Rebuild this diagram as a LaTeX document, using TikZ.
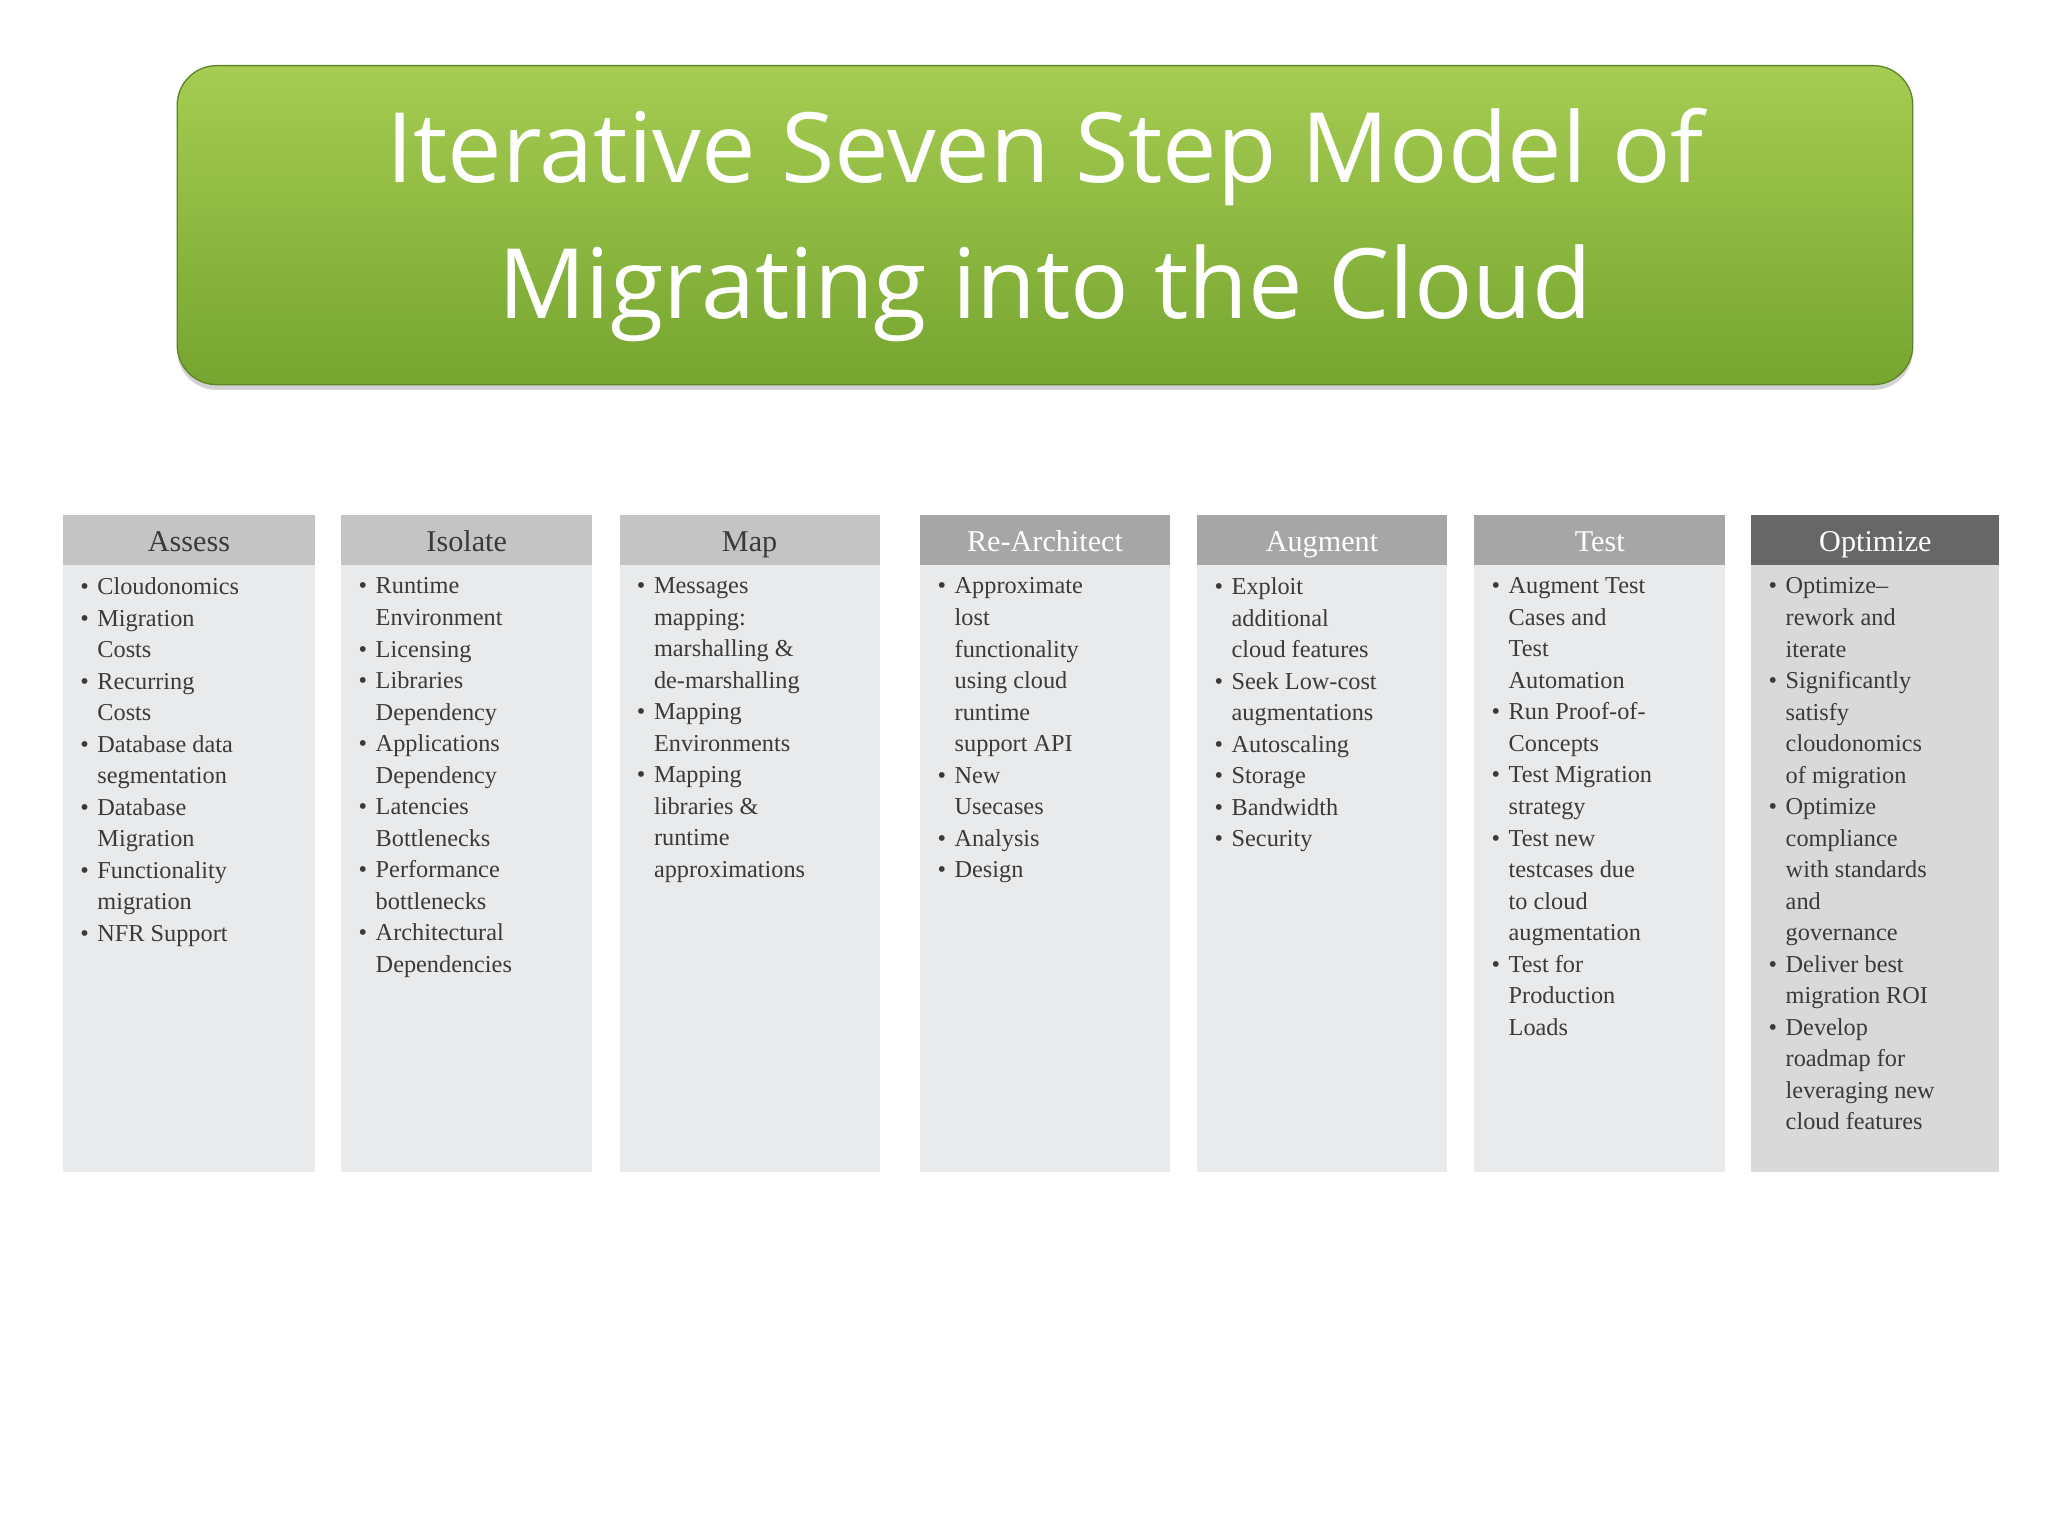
\documentclass[tikz,border=0pt]{standalone}
\usepackage{fontspec}
\setmainfont{Liberation Serif}
\newfontfamily\titlefont{Open Sans}
\usetikzlibrary{shadows}
\definecolor{hdlight}{HTML}{C4C4C4}
\definecolor{hdmid}{HTML}{A6A6A6}
\definecolor{hddark}{HTML}{676767}
\definecolor{bodylight}{HTML}{E9EAEB}
\definecolor{bodydark}{HTML}{D9D9D9}
\definecolor{txt}{HTML}{3A3A3A}
\definecolor{gtop}{HTML}{A6CC52}
\definecolor{gbot}{HTML}{76A530}
\newcommand{\bl}{\makebox[13pt][l]{•}}
\newcommand{\ind}{\hspace*{13pt}}
\tikzset{
  colbody/.style={fill=bodylight, draw=none},
  colhead/.style={font=\fontsize{23}{24}\selectfont, text=txt, anchor=base},
  coltext/.style={anchor=north west, align=left, inner sep=0pt, text=txt, font=\fontsize{18.5}{24}\selectfont}
}
\begin{document}
\begin{tikzpicture}[x=1pt,y=-1pt]
\useasboundingbox[fill=white] (0,0) rectangle (1560,1170);
\node[draw=gbot!80!black, line width=1pt, rounded corners=30pt, top color=gtop, bottom color=gbot, minimum width=1322pt, minimum height=243pt, drop shadow={opacity=0.35,shadow xshift=0pt,shadow yshift=-4pt}, align=center, text=white, font=\titlefont\fontsize{74}{104}\selectfont] (title) at (796,171.5) {Iterative Seven Step Model of\\Migrating into the Cloud};

\foreach \xl/\xr/\hc/\tc/\bc/\nm/\ttl in {48/240/hdlight/txt/bodylight/a/Assess, 260/451/hdlight/txt/bodylight/b/Isolate, 472/670/hdlight/txt/bodylight/c/Map, 701/891/hdmid/white/bodylight/d/Re-Architect, 912/1102/hdmid/white/bodylight/e/Augment, 1123/1314/hdmid/white/bodylight/f/Test, 1334/1523/hddark/white/bodydark/g/Optimize}{
  \fill[\bc] (\xl,430) rectangle (\xr,893);
  \fill[\hc] (\xl,392) rectangle (\xr,430);
  \node[colhead, text=\tc] (h\nm) at ({(\xl+\xr)/2},420) {\ttl};
  \coordinate (t\nm) at (\xl+13,440);
}
\node[coltext] (ta1) at (ta) {\bl Cloudonomics\\\bl Migration\\\ind Costs\\\bl Recurring\\\ind Costs\\\bl Database data\\\ind segmentation\\\bl Database\\\ind Migration\\\bl Functionality\\\ind migration\\\bl NFR Support};
\node[coltext] (tb1) at (tb) {\bl Runtime\\\ind Environment\\\bl Licensing\\\bl Libraries\\\ind Dependency\\\bl Applications\\\ind Dependency\\\bl Latencies\\\ind Bottlenecks\\\bl Performance\\\ind bottlenecks\\\bl Architectural\\\ind Dependencies};
\node[coltext] (tc1) at (tc) {\bl Messages\\\ind mapping:\\\ind marshalling \&\\\ind de-marshalling\\\bl Mapping\\\ind Environments\\\bl Mapping\\\ind libraries \&\\\ind runtime\\\ind approximations};
\node[coltext] (td1) at (td) {\bl Approximate\\\ind lost\\\ind functionality\\\ind using cloud\\\ind runtime\\\ind support API\\\bl New\\\ind Usecases\\\bl Analysis\\\bl Design};
\node[coltext] (te1) at (te) {\bl Exploit\\\ind additional\\\ind cloud features\\\bl Seek Low-cost\\\ind augmentations\\\bl Autoscaling\\\bl Storage\\\bl Bandwidth\\\bl Security};
\node[coltext] (tf1) at (tf) {\bl Augment Test\\\ind Cases and\\\ind Test\\\ind Automation\\\bl Run Proof-of-\\\ind Concepts\\\bl Test Migration\\\ind strategy\\\bl Test new\\\ind testcases due\\\ind to cloud\\\ind augmentation\\\bl Test for\\\ind Production\\\ind Loads};
\node[coltext] (tg1) at (tg) {\bl Optimize–\\\ind rework and\\\ind iterate\\\bl Significantly\\\ind satisfy\\\ind cloudonomics\\\ind of migration\\\bl Optimize\\\ind compliance\\\ind with standards\\\ind and\\\ind governance\\\bl Deliver best\\\ind migration ROI\\\bl Develop\\\ind roadmap for\\\ind leveraging new\\\ind cloud features};
\end{tikzpicture}
\end{document}
